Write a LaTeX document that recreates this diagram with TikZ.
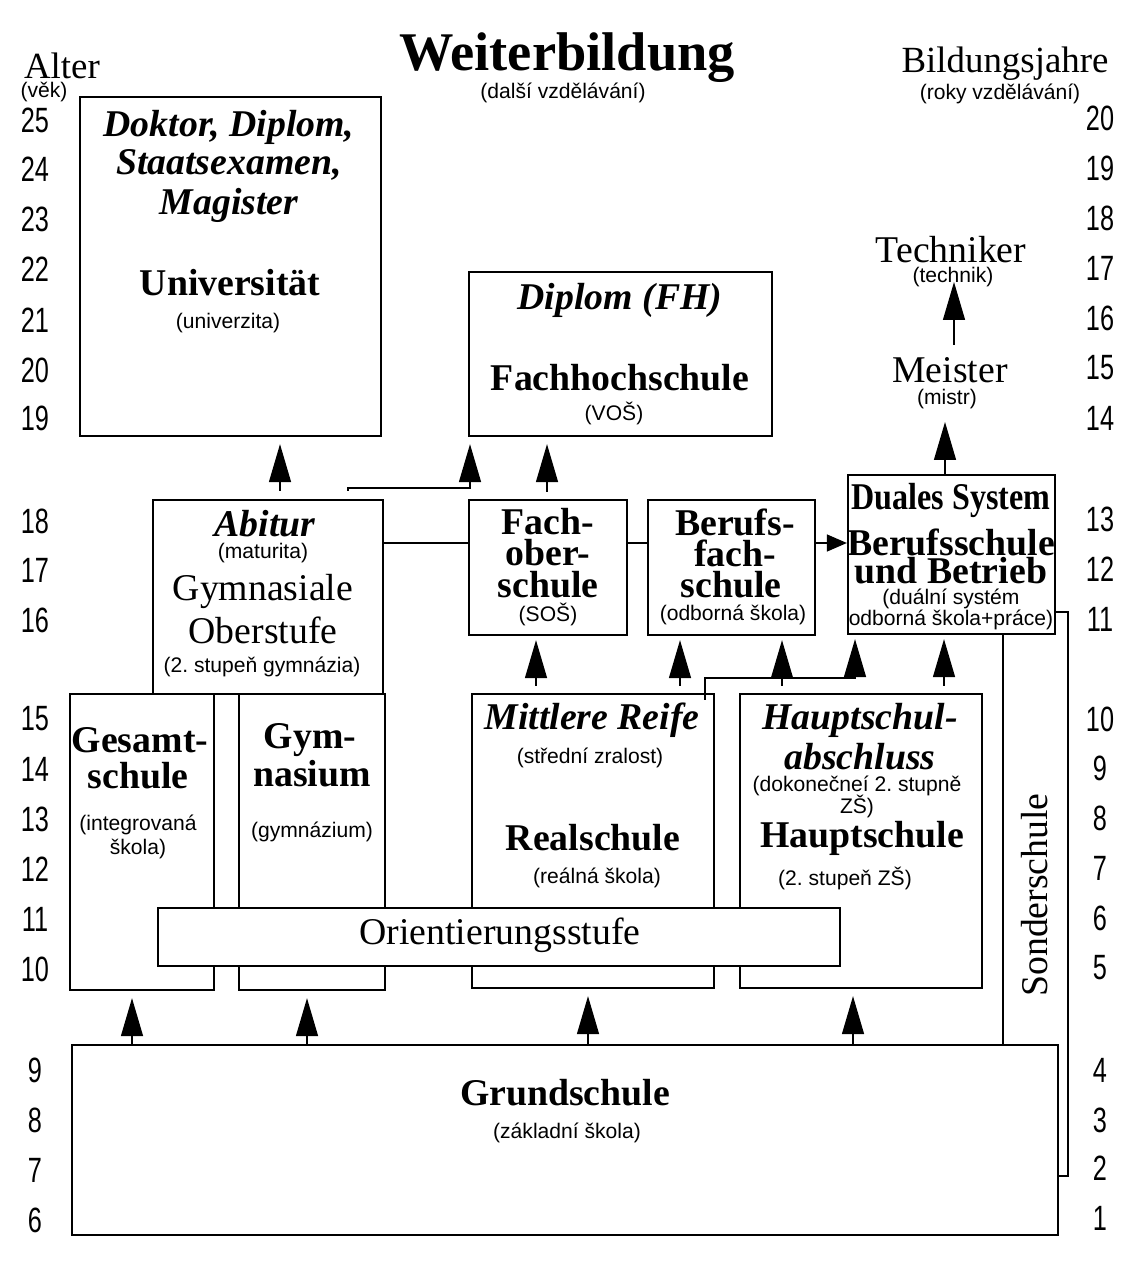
\documentclass[tikz,border=0pt]{standalone}
\usepackage{fontspec}
\setmainfont{Liberation Serif}
\newfontfamily\czf{Liberation Sans}
\newfontfamily\numf[FakeStretch=0.72]{Liberation Sans}
\usetikzlibrary{arrows.meta,fit}
\frenchspacing
\begin{document}
\frenchspacing
\begin{tikzpicture}[x=0.02cm,y=-0.02cm,
 box/.style={draw, line width=1.3pt, inner sep=0pt, fill=white},
 tb/.style={font=\fontsize{21.5}{22}\selectfont\bfseries, inner sep=0pt},
 tbi/.style={font=\fontsize{21.5}{22}\selectfont\bfseries\itshape, inner sep=0pt},
 tr/.style={font=\fontsize{21.5}{22}\selectfont, inner sep=0pt},
 cz/.style={font=\czf\fontsize{12}{13}\selectfont\frenchspacing, inner sep=0pt},
 num/.style={font=\numf\fontsize{20}{20}\selectfont, inner sep=0pt},
 conn/.style={line width=0.8pt},
 arr/.style={conn, -{Triangle[length=0.76cm,width=0.44cm]}},
 harr/.style={conn, -{Triangle[length=0.4cm,width=0.34cm]}},
]
\useasboundingbox[fill=white] (0,0) rectangle (1122,1273);

% ---------- boxes ----------
\node[box, fit={(80,97) (381,436)}] (univ) {};
\node[box, fit={(469,272) (772,436)}] (fh) {};
\node[box, fit={(153,500) (383,694)}] (abitur) {};
\node[box, fit={(469,500) (627,635)}] (fos) {};
\node[box, fit={(648,500) (815,635)}] (bfs) {};
\node[box, fit={(848,475) (1055,634)}] (duales) {};
\node[box, fit={(70,694) (214,990)}] (gesamt) {};
\node[box, fit={(239,694) (385,990)}] (gym) {};
\node[box, fit={(472,694) (714,988)}] (real) {};
\node[box, fit={(740,694) (982,988)}] (haupt) {};
\node[box, fit={(158,908) (840,966)}] (ori) {};
\node[box, fit={(72,1045) (1058,1235)}] (grund) {};

% ---------- headers ----------
\node[font=\fontsize{31}{31}\selectfont\bfseries, inner sep=0pt] (title) at (567,58) {Weiterbildung};
\node[cz] (titlecz) at (563,93) {(další vzdělávání)};
\node[tr, font=\fontsize{21}{21}\selectfont] (alter) at (62,66) {Alter};
\node[cz] (alterCz) at (44,92) {(věk)};
\node[tr, font=\fontsize{21}{21}\selectfont] (bj) at (1005,64) {Bildungsjahre};
\node[cz] (bjCz) at (1000,94) {(roky vzdělávání)};

% ---------- numbers ----------
\foreach \v/\yy in {25/120,24/169,23/219,22/269,21/320,20/370,19/418,18/521,17/570,16/620,15/719,14/769,13/819,12/869,11/919,10/969,9/1070,8/1120,7/1170,6/1220}
  \node[num] (L\v) at (35,\yy) {\v};
\foreach \v/\yy in {20/118,19/168,18/218,17/268,16/318,15/368,14/418,13/519,12/569,11/619,10/719,9/768,8/818,7/868,6/918,5/968,4/1070,3/1120,2/1168,1/1218}
  \node[num] (R\v) at (1100,\yy) {\v};

% ---------- texts ----------
\node[tbi] (u1) at (229,127) {Doktor, Diplom,};
\node[tbi] (u2) at (229,165) {Staatsexamen,};
\node[tbi] (u3) at (229,205) {Magister};
\node[tb] (u4) at (230,283) {Universität};
\node[cz] (u5) at (228,323) {(univerzita)};

\node[tbi] (f1) at (620,300) {Diplom (FH)};
\node[tb] (f2) at (620,378) {Fachhochschule};
\node[cz] (f3) at (614,413) {(VOŠ)};

\node[tr] (tech) at (951,250) {Techniker};
\node[cz] (techcz) at (953,277) {(technik)};
\node[tr] (meister) at (950,370) {Meister};
\node[cz] (meistercz) at (947,399) {(mistr)};

\node[tbi] (a1) at (265,524) {Abitur};
\node[cz] (a2) at (263,553) {(maturita)};
\node[tr] (a3) at (263,591) {Gymnasiale};
\node[tr] (a4) at (263,630) {Oberstufe};
\node[cz] (a5) at (262,667) {(2. stupeň gymnázia)};

\node[tb] (o1) at (548,522) {Fach-};
\node[tb] (o2) at (548,553) {ober-};
\node[tb] (o3) at (548,585) {schule};
\node[cz] (o4) at (548,614) {(SOŠ)};

\node[tb] (b1) at (735,522) {Berufs-};
\node[tb] (b2) at (735,553) {fach-};
\node[tb] (b3) at (731,585) {schule};
\node[cz] (b4) at (733,615) {(odborná škola)};

\node[tb] (d1) at (951,500) {\scalebox{0.85}[1]{Duales System}};
\node[tb] (d2) at (951,542) {Berufsschule};
\node[tb] (d3) at (951,571) {und Betrieb};
\node[cz] (d4) at (951,599) {(duální systém};
\node[cz] (d5) at (951,620) {odborná škola+práce)};

\node[tb] (g1) at (140,740) {Gesamt-};
\node[tb] (g2) at (138,776) {schule};
\node[cz] (g3) at (138,825) {(integrovaná};
\node[cz] (g4) at (138,849) {škola)};

\node[tb] (y1) at (310,740) {Gym-};
\node[tb] (y2) at (312,774) {nasium};
\node[cz] (y3) at (312,832) {(gymnázium)};

\node[tbi] (r1) at (592,720) {Mittlere Reife};
\node[cz] (r2) at (590,758) {(střední zralost)};
\node[tb] (r3) at (593,838) {Realschule};
\node[cz] (r4) at (597,878) {(reálná škola)};

\node[tbi] (h1) at (860,720) {Hauptschul-};
\node[tbi] (h2) at (860,757) {abschluss};
\node[cz] (h3) at (857,786) {(dokonečneí 2. stupně};
\node[cz] (h4) at (857,806) {ZŠ)};
\node[tb] (h5) at (862,838) {Hauptschule};
\node[cz] (h6) at (845,878) {(2. stupeň ZŠ)};

\node[tr] (orit) at (500,935) {Orientierungsstufe};

\node[tb] (gr1) at (565,1093) {Grundschule};
\node[cz] (gr2) at (567,1133) {(základní škola)};

\node[tr, rotate=90] (sonder) at (1035,895) {Sonderschule};

% ---------- connectors ----------
\coordinate (meisterTip) at (945,422);
\coordinate (techBase) at (954,345);
\coordinate (techTip) at (954,282);

% Grundschule upward
\draw[arr, shorten >=0.14cm] (132,0 |- grund.north) -- (132,0 |- gesamt.south);
\draw[arr, shorten >=0.14cm] (307,0 |- grund.north) -- (307,0 |- gym.south);
\draw[arr, shorten >=0.14cm] (588,0 |- grund.north) -- (588,0 |- real.south);
\draw[arr, shorten >=0.14cm] (853,0 |- grund.north) -- (853,0 |- haupt.south);

% Realschule / Hauptschule upward
\draw[arr, shorten <=0.14cm, shorten >=0.08cm] (536,0 |- real.north) -- (536,0 |- fos.south);
\draw[arr, shorten <=0.14cm, shorten >=0.08cm] (680,0 |- real.north) -- (680,0 |- bfs.south);
\draw[arr, shorten <=0.14cm, shorten >=0.08cm] (782,0 |- haupt.north) -- (782,0 |- bfs.south);
\draw[arr, shorten >=0.08cm] ([yshift=-0.14cm]705,0 |- real.north) -- (705,678) -- (855,678) -- (855,0 |- duales.south);
\draw[arr, shorten <=0.14cm, shorten >=0.08cm] (944,0 |- haupt.north) -- (944,0 |- duales.south);

% horizontal chain
\draw[conn] (abitur.east |- 0,543) -- (fos.west |- 0,543);
\draw[conn] (fos.east |- 0,543) -- (bfs.west |- 0,543);
\draw[harr] (bfs.east |- 0,543) -- (duales.west |- 0,543);

% to Universitaet and Fachhochschule
\draw[arr, shorten <=0.16cm, shorten >=0.14cm] (280,0 |- abitur.north) -- (280,0 |- univ.south);
\draw[arr, shorten >=0.14cm] ([yshift=0.16cm]348,0 |- abitur.north) -- (348,488) -- (470,488) -- (470,0 |- fh.south);
\draw[arr, shorten <=0.14cm, shorten >=0.14cm] (547,0 |- fos.north) -- (547,0 |- fh.south);

% Duales -> Meister -> Techniker
\draw[arr] (945,0 |- duales.north) -- (meisterTip);
\draw[arr] (techBase) -- (techTip);

% Sonderschule lines
\draw[conn] (1003,0 |- duales.south) -- (1003,0 |- grund.north);
\draw[conn] (duales.east |- 0,612) -- (1068,612) -- (1068,1176) -- (grund.east |- 0,1176);

\end{tikzpicture}
\end{document}
